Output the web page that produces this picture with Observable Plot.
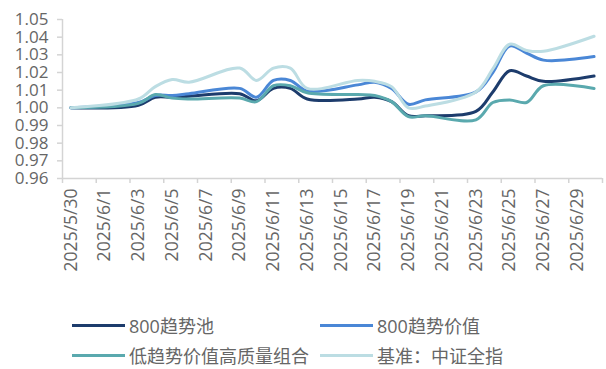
<!DOCTYPE html>
<html>
<head>
<meta charset="utf-8">
<script src="https://cdn.jsdelivr.net/npm/d3@7"></script>
<script src="https://cdn.jsdelivr.net/npm/@observablehq/plot@0.6"></script>
<style>
  html, body { margin: 0; padding: 0; background: #fff; }
  #wrap { position: relative; width: 606px; height: 369px; overflow: hidden; font-family: "Open Sans", "Noto Sans CJK SC", sans-serif; }
  #legend { position: absolute; left: 0; top: 300px; width: 606px; height: 69px; }
  .item { position: absolute; display: flex; align-items: center; font-size: 18px; color: #666; white-space: nowrap; }
  .sw { width: 53px; height: 3px; margin-right: 4px; }
</style>
</head>
<body>
<div id="wrap"><div id="chart"></div><div id="legend"></div></div>
<script>
const dates = ["2025-05-30","2025-06-03","2025-06-04","2025-06-05","2025-06-06","2025-06-09","2025-06-10","2025-06-11","2025-06-12","2025-06-13","2025-06-16","2025-06-17","2025-06-18","2025-06-19","2025-06-20","2025-06-23","2025-06-24","2025-06-25","2025-06-26","2025-06-27","2025-06-30"];
const pool800     = [1.000, 1.0015, 1.006, 1.006, 1.0065, 1.008, 1.004, 1.011, 1.011, 1.005, 1.005, 1.006, 1.0035, 0.9955, 0.9955, 0.998, 1.009, 1.021, 1.018, 1.015, 1.018];
const value800    = [1.000, 1.003, 1.007, 1.007, 1.008, 1.011, 1.006, 1.0155, 1.0155, 1.0095, 1.013, 1.0145, 1.011, 1.002, 1.0045, 1.009, 1.020, 1.035, 1.031, 1.027, 1.029];
const lowTrend    = [1.000, 1.0025, 1.0075, 1.0055, 1.005, 1.0055, 1.0035, 1.0125, 1.0125, 1.0085, 1.0075, 1.007, 1.0035, 0.995, 0.9955, 0.9932, 1.003, 1.0045, 1.003, 1.0125, 1.011];
const benchmark   = [1.000, 1.005, 1.012, 1.016, 1.0145, 1.0225, 1.0155, 1.0225, 1.0225, 1.011, 1.0155, 1.015, 1.012, 1.000, 1.001, 1.009, 1.022, 1.036, 1.0325, 1.032, 1.0405];
const seriesNames = ["800趋势池", "800趋势价值", "低趋势价值高质量组合", "基准：中证全指"];
const seriesColors = ["#1d3c6c", "#4a87d6", "#5aa9ae", "#bcdde3"];
const xTickLabels = ["2025/5/30","2025/6/1","2025/6/3","2025/6/5","2025/6/7","2025/6/9","2025/6/11","2025/6/13","2025/6/15","2025/6/17","2025/6/19","2025/6/21","2025/6/23","2025/6/25","2025/6/27","2025/6/29"];
const yTicks = [0.96, 0.97, 0.98, 0.99, 1.00, 1.01, 1.02, 1.03, 1.04, 1.05];

const parseLabel = s => { const [y, m, d] = s.split("/").map(Number); return new Date(Date.UTC(y, m - 1, d)); };
const HALF = 12 * 3600 * 1000;
const labelDates = xTickLabels.map(parseLabel);
const xDomain = [new Date(+parseLabel("2025/5/30") - HALF), new Date(+parseLabel("2025/6/30") + HALF)];
const boundaryTicks = labelDates.map(d => new Date(+d - HALF)).concat([xDomain[1]]);
const fmt = d => `${d.getUTCFullYear()}/${d.getUTCMonth() + 1}/${d.getUTCDate()}`;

const allValues = [pool800, value800, lowTrend, benchmark];
const rows = [];
allValues.forEach((vals, si) => vals.forEach((v, i) => rows.push({date: new Date(dates[i] + "T00:00:00Z"), value: v, series: seriesNames[si]})));

const axisColor = "#d4d4d4";
const textColor = "#666";

const chart = Plot.plot({
  width: 606,
  height: 300,
  marginTop: 19,
  marginBottom: 122,
  marginLeft: 62,
  marginRight: 4,
  style: {fontFamily: '"Open Sans", "Noto Sans CJK SC", sans-serif', fontSize: "17px", color: textColor, background: "#fff"},
  x: {type: "utc", domain: xDomain, label: null},
  y: {domain: [0.96, 1.05], label: null},
  color: {domain: seriesNames, range: seriesColors},
  marks: [
    Plot.ruleY([0.96], {stroke: axisColor, strokeWidth: 1.5}),
    Plot.ruleX([xDomain[0]], {stroke: axisColor, strokeWidth: 1.5}),
    Plot.axisY({ticks: yTicks, tickFormat: d => d.toFixed(2), tickSize: 5, tickPadding: 9, stroke: axisColor, fill: textColor, strokeWidth: 1.5, fontSize: 17, label: null}),
    Plot.axisX({ticks: boundaryTicks, tickFormat: () => "", tickSize: 5, stroke: axisColor, strokeWidth: 1.5, label: null}),
    Plot.axisX({ticks: labelDates, tickFormat: fmt, tickSize: 0, tickPadding: 10, tickRotate: -90, fill: textColor, fontSize: 17.5, label: null}),
    Plot.line(rows, {x: "date", y: "value", z: "series", stroke: "series", strokeWidth: 3, curve: "catmull-rom"})
  ]
});
document.getElementById("chart").appendChild(chart);

const legendPos = [[72, 325], [320, 325], [72, 355], [320, 355]];
const legend = document.getElementById("legend");
seriesNames.forEach((name, i) => {
  const it = document.createElement("div");
  it.className = "item";
  it.style.left = legendPos[i][0] + "px";
  it.style.top = (legendPos[i][1] - 300 - 13) + "px";
  it.style.height = "26px";
  const sw = document.createElement("div");
  sw.className = "sw";
  sw.style.background = seriesColors[i];
  const tx = document.createElement("span");
  tx.textContent = name;
  it.appendChild(sw); it.appendChild(tx);
  legend.appendChild(it);
});
</script>
</body>
</html>
